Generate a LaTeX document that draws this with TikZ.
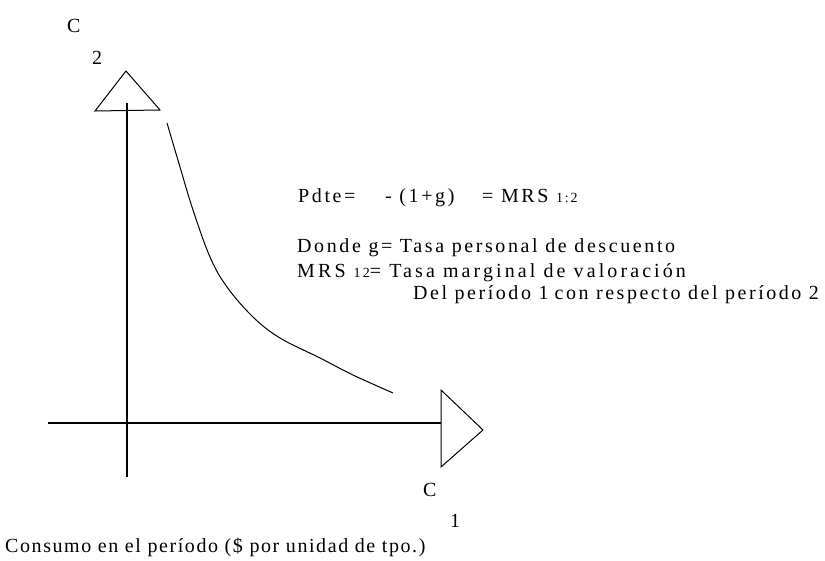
\documentclass[tikz,border=0pt]{standalone}
\usepackage{fontspec}
\setmainfont{Liberation Serif}
\newcommand{\smdig}[1]{{\fontsize{14}{16}\selectfont #1}}
\begin{document}
\begin{tikzpicture}[x=1pt,y=-1pt,
    lbl/.style={anchor=base west,inner sep=0pt,
        font=\fontsize{20}{24}\selectfont\addfontfeature{LetterSpace=#1}},
    lbl/.default=0,
    axis/.style={line width=1.3pt},
    tip/.style={line width=1pt,line join=miter}]
            \useasboundingbox (0,0) rectangle (825,561);

            % axes
            \coordinate (o) at (127,423);
            \coordinate (xl) at (48,423);
            \coordinate (xr) at (441,423);
            \coordinate (yb) at (127,477);
            \coordinate (yt) at (127,103);

            \draw[axis] (xl)--(xr);
            \draw[axis] (yb)--(yt);

            % open triangles at the axis ends
            \coordinate (t1) at (95,111);
            \coordinate (t2) at (126,71);
            \coordinate (t3) at (160,110);
            \coordinate (r1) at (441,390);
            \coordinate (r2) at (483,430);
            \coordinate (r3) at (441,467);

            \draw[tip] (t1)--(t2)--(t3)--cycle;
            \draw[tip] (r1)--(r2)--(r3)--cycle;

            % indifference curve
            \draw[line width=1pt] plot[smooth,tension=0.6] coordinates {
                (167,123) (180,167) (193,210) (210,257) (227,287)
                (253,317) (280,338) (320,358) (353,375) (393,393)};

            \node[lbl] (c2) at (67,33) {C};
            \node[lbl] (n2) at (92,65) {2};
            \node[lbl] (c1) at (423,496) {C};
            \node[lbl] (n1) at (450,527) {1};

            \node[lbl=13] (pdte) at (298,203) {\makebox[87pt][l]{Pdte=}\makebox[97pt][l]{- (1+g)}= MRS \smdig{1:2}};
            \node[lbl=13] (donde) at (297,253) {Donde g= Tasa personal de descuento};
            \node[lbl=15.5] (mrs) at (297,278) {MRS \smdig{12}= Tasa marginal de valoración};
            \node[lbl=12.7] (del) at (413,300) {Del período 1\hspace{6pt}con respecto del período 2};
            \node[lbl=7.9] (cons) at (5,552) {Consumo en el período (\$ por unidad de tpo.)};
        \end{tikzpicture}
\end{document}
